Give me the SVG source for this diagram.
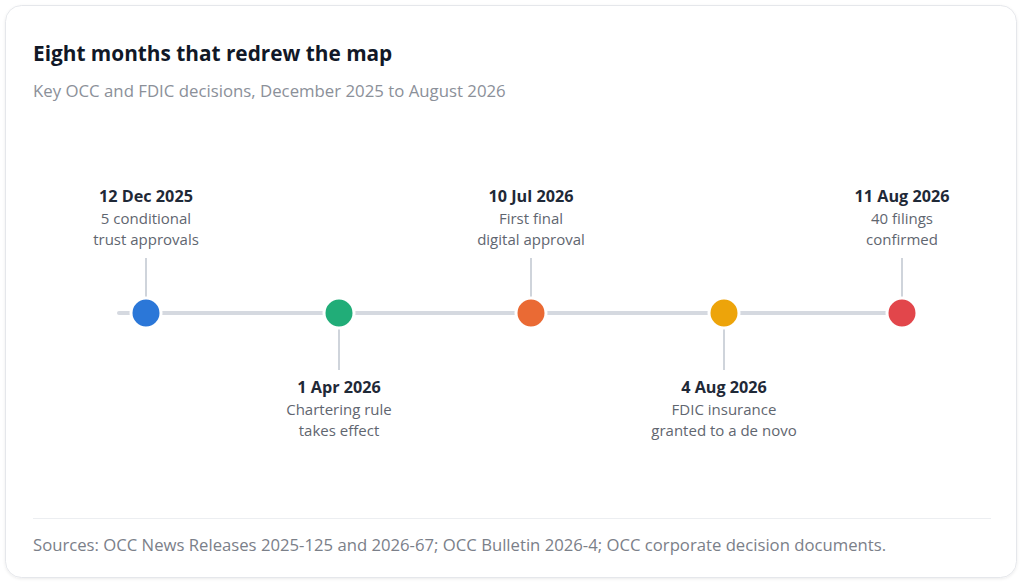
<svg xmlns="http://www.w3.org/2000/svg" width="1024" height="586" viewBox="0 0 1024 586">
<defs>
<filter id="sh" x="-5%" y="-5%" width="110%" height="110%">
<feDropShadow dx="0" dy="1" stdDeviation="1.5" flood-color="#000" flood-opacity="0.08"/>
</filter>
<style>
text{font-family:"Open Sans","Noto Sans","Liberation Sans",sans-serif}
.title{font-size:20.8px;font-weight:700;fill:#111827}
.sub{font-size:16.8px;fill:#8b9099}
.date{font-size:16.2px;font-weight:700;fill:#1f2937;text-anchor:middle}
.desc{font-size:15px;fill:#5f6670;text-anchor:middle}
.foot{font-size:16.7px;fill:#7b8089}
.stem{stroke:#cfd4db;stroke-width:2}
.dot{stroke:#fff;stroke-width:3}
</style>
</defs>
<rect x="5.5" y="5.5" width="1011" height="572" rx="16" fill="#fff" stroke="#e5e7eb" filter="url(#sh)"/>
<text class="title" x="33" y="61">Eight months that redrew the map</text>
<text class="sub" x="33" y="97">Key OCC and FDIC decisions, December 2025 to August 2026</text>
<g id="connectors">
<line x1="119" y1="313" x2="915" y2="313" stroke="#d5d9e0" stroke-width="4" stroke-linecap="round"/>
<line class="stem" x1="146" y1="258" x2="146" y2="299"/>
<line class="stem" x1="339" y1="327" x2="339" y2="370"/>
<line class="stem" x1="531" y1="258" x2="531" y2="299"/>
<line class="stem" x1="724" y1="327" x2="724" y2="370"/>
<line class="stem" x1="902" y1="258" x2="902" y2="299"/>
</g>
<g id="e1">
<circle class="dot" cx="146" cy="313" r="15" fill="#2b77d8"/>
<text class="date" x="146" y="202">12 Dec 2025</text>
<text class="desc" x="146" y="224">5 conditional</text>
<text class="desc" x="146" y="245">trust approvals</text>
</g>
<g id="e2">
<circle class="dot" cx="339" cy="313" r="15" fill="#21ad78"/>
<text class="date" x="339" y="393">1 Apr 2026</text>
<text class="desc" x="339" y="415">Chartering rule</text>
<text class="desc" x="339" y="436">takes effect</text>
</g>
<g id="e3">
<circle class="dot" cx="531" cy="313" r="15" fill="#ea6a34"/>
<text class="date" x="531" y="202">10 Jul 2026</text>
<text class="desc" x="531" y="224">First final</text>
<text class="desc" x="531" y="245">digital approval</text>
</g>
<g id="e4">
<circle class="dot" cx="724" cy="313" r="15" fill="#eda40a"/>
<text class="date" x="724" y="393">4 Aug 2026</text>
<text class="desc" x="724" y="415">FDIC insurance</text>
<text class="desc" x="724" y="436">granted to a de novo</text>
</g>
<g id="e5">
<circle class="dot" cx="902" cy="313" r="15" fill="#e2464b"/>
<text class="date" x="902" y="202">11 Aug 2026</text>
<text class="desc" x="902" y="224">40 filings</text>
<text class="desc" x="902" y="245">confirmed</text>
</g>
<line x1="33" y1="518.5" x2="991" y2="518.5" stroke="#eceef1"/>
<text class="foot" x="33" y="551">Sources: OCC News Releases 2025-125 and 2026-67; OCC Bulletin 2026-4; OCC corporate decision documents.</text>
</svg>
